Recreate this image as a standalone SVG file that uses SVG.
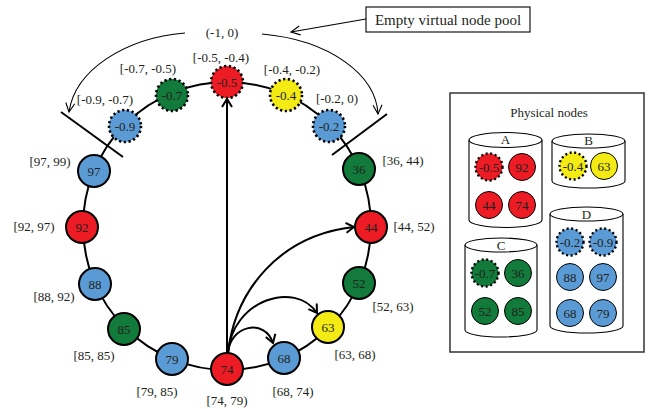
<svg xmlns="http://www.w3.org/2000/svg" width="649" height="409" viewBox="0 0 649 409">
<defs>
<style>
text{font-family:"Liberation Serif","Times New Roman",serif;fill:#231f20;text-anchor:middle}
.lbl{font-size:13px}
.nt{font-size:13px}
.rn{stroke:#000;stroke-width:2}
.vn{stroke:#000;stroke-width:2.6;stroke-dasharray:2.2 2.6}
.pn{stroke:#000;stroke-width:1}
.pv{stroke:#000;stroke-width:2.4;stroke-dasharray:2 2.6}
.red{fill:#ed1c24}.grn{fill:#127a3a}.blu{fill:#5b9bd5}.yel{fill:#f3eb13}
.cyl{fill:#fff;stroke:#000;stroke-width:1.1}
.thick{fill:none;stroke:#000;stroke-width:2}
.thin{fill:none;stroke:#000;stroke-width:1.1}
</style>
<marker id="ah" viewBox="-10 -6 12 12" refX="0" refY="0" markerWidth="12" markerHeight="12" markerUnits="userSpaceOnUse" orient="auto" overflow="visible">
<path d="M-8,-5 L0,0 L-8,5" fill="none" stroke="#000" stroke-width="2"/>
</marker>
<marker id="ahs" viewBox="-10 -6 12 12" refX="0" refY="0" markerWidth="12" markerHeight="12" markerUnits="userSpaceOnUse" orient="auto" overflow="visible">
<path d="M-9,-4.5 L0,0 L-9,4.5" fill="none" stroke="#000" stroke-width="1.1"/>
</marker>
</defs>
<rect width="649" height="409" fill="#fff"/>

<g id="connectors">
<circle cx="227" cy="226" r="144" fill="none" stroke="#000" stroke-width="2"/>
<line x1="61" y1="112" x2="123" y2="157" stroke="#000" stroke-width="2"/>
<line x1="387" y1="114" x2="332" y2="155" stroke="#000" stroke-width="2"/>
<path class="thin" d="M185,33 C125,38 75,70 69,112" marker-end="url(#ahs)"/>
<path class="thin" d="M262,34 C330,40 376,75 378,114" marker-end="url(#ahs)"/>
<line class="thin" x1="366" y1="19" x2="291" y2="32" marker-end="url(#ahs)"/>
<path class="thick" d="M227,353 L227,99" marker-end="url(#ah)"/>
<path class="thick" d="M228,353 C235,290 280,235 354,227" marker-end="url(#ah)"/>
<path class="thick" d="M228,353 C232,300 295,280 317,313" marker-end="url(#ah)"/>
<path class="thick" d="M228,353 C230,325 265,318 273,343" marker-end="url(#ah)"/>
</g>

<g id="pool-label">
<text x="222" y="37" class="lbl">(-1, 0)</text>
</g>
<g id="callout">
<rect x="366" y="7" width="164" height="25" fill="#fff" stroke="#000" stroke-width="1.1"/>
<text x="448" y="25" style="font-size:15px">Empty virtual node pool</text>
</g>

<g id="v-09"><circle cx="125" cy="126" r="16" class="blu vn"/><text x="125" y="131" class="nt">-0.9</text><text x="105" y="104" class="lbl">[-0.9, -0.7)</text></g>
<g id="v-07"><circle cx="172" cy="95" r="16" class="grn vn"/><text x="172" y="100" class="nt">-0.7</text><text x="148" y="73" class="lbl">[-0.7, -0.5)</text></g>
<g id="v-05"><circle cx="227" cy="82" r="16" class="red vn"/><text x="227" y="87" class="nt">-0.5</text><text x="221" y="62" class="lbl">[-0.5, -0.4)</text></g>
<g id="v-04"><circle cx="286" cy="95" r="16" class="yel vn"/><text x="286" y="100" class="nt">-0.4</text><text x="292" y="74" class="lbl">[-0.4, -0.2)</text></g>
<g id="v-02"><circle cx="329" cy="126" r="16" class="blu vn"/><text x="329" y="131" class="nt">-0.2</text><text x="337" y="103" class="lbl">[-0.2, 0)</text></g>
<g id="n36"><circle cx="359" cy="169" r="16" class="grn rn"/><text x="359" y="174" class="nt">36</text><text x="403" y="165" class="lbl">[36, 44)</text></g>
<g id="n44"><circle cx="371" cy="227" r="16" class="red rn"/><text x="371" y="232" class="nt">44</text><text x="414" y="231" class="lbl">[44, 52)</text></g>
<g id="n52"><circle cx="359" cy="283" r="16" class="grn rn"/><text x="359" y="288" class="nt">52</text><text x="393" y="311" class="lbl">[52, 63)</text></g>
<g id="n63"><circle cx="328" cy="327" r="16" class="yel rn"/><text x="328" y="332" class="nt">63</text><text x="355" y="359" class="lbl">[63, 68)</text></g>
<g id="n68"><circle cx="284" cy="358" r="16" class="blu rn"/><text x="284" y="363" class="nt">68</text><text x="293" y="396" class="lbl">[68, 74)</text></g>
<g id="n74"><circle cx="227" cy="369" r="16" class="red rn"/><text x="227" y="374" class="nt">74</text><text x="227" y="405" class="lbl">[74, 79)</text></g>
<g id="n79"><circle cx="172" cy="359" r="16" class="blu rn"/><text x="172" y="364" class="nt">79</text><text x="157" y="396" class="lbl">[79, 85)</text></g>
<g id="n85"><circle cx="124" cy="329" r="16" class="grn rn"/><text x="124" y="334" class="nt">85</text><text x="94" y="360" class="lbl">[85, 85)</text></g>
<g id="n88"><circle cx="95" cy="284" r="16" class="blu rn"/><text x="95" y="289" class="nt">88</text><text x="54" y="301" class="lbl">[88, 92)</text></g>
<g id="n92"><circle cx="82" cy="227" r="16" class="red rn"/><text x="82" y="232" class="nt">92</text><text x="34" y="231" class="lbl">[92, 97)</text></g>
<g id="n97"><circle cx="94" cy="171" r="16" class="blu rn"/><text x="94" y="176" class="nt">97</text><text x="50" y="166" class="lbl">[97, 99)</text></g>

<g id="physical-nodes">
<rect x="450" y="93" width="194" height="259" fill="#fff" stroke="#333" stroke-width="1.5"/>
<text x="549" y="117" class="lbl">Physical nodes</text>
</g>

<g id="pA">
<path class="cyl" d="M469,140 L469,220 A36.5,7.5 0 0 0 542,220 L542,140"/>
<ellipse class="cyl" cx="505.5" cy="140" rx="36.5" ry="7.5"/>
<text x="505.5" y="144" class="lbl">A</text>
<circle cx="489" cy="167" r="13.5" class="red pv"/><text x="489" y="172" class="nt">-0.5</text>
<circle cx="522" cy="167" r="13.5" class="red pn"/><text x="522" y="172" class="nt">92</text>
<circle cx="489" cy="205" r="13.5" class="red pn"/><text x="489" y="210" class="nt">44</text>
<circle cx="522" cy="205" r="13.5" class="red pn"/><text x="522" y="210" class="nt">74</text>
</g>
<g id="pB">
<path class="cyl" d="M552,141 L552,181 A36.5,7 0 0 0 625,181 L625,141"/>
<ellipse class="cyl" cx="588.5" cy="141" rx="36.5" ry="7"/>
<text x="588.5" y="145" class="lbl">B</text>
<circle cx="573" cy="166" r="13.5" class="yel pv"/><text x="573" y="171" class="nt">-0.4</text>
<circle cx="604" cy="166" r="13.5" class="yel pn"/><text x="604" y="171" class="nt">63</text>
</g>
<g id="pC">
<path class="cyl" d="M465,245 L465,330 A36,7 0 0 0 537,330 L537,245"/>
<ellipse class="cyl" cx="501" cy="245" rx="36" ry="7"/>
<text x="501" y="250" class="lbl">C</text>
<circle cx="485" cy="273" r="13.5" class="grn pv"/><text x="485" y="278" class="nt">-0.7</text>
<circle cx="518" cy="273" r="13.5" class="grn pn"/><text x="518" y="278" class="nt">36</text>
<circle cx="485" cy="311" r="13.5" class="grn pn"/><text x="485" y="316" class="nt">52</text>
<circle cx="518" cy="311" r="13.5" class="grn pn"/><text x="518" y="316" class="nt">85</text>
</g>
<g id="pD">
<path class="cyl" d="M550,214 L550,326 A36.5,7 0 0 0 623,326 L623,214"/>
<ellipse class="cyl" cx="586.5" cy="214" rx="36.5" ry="7"/>
<text x="586.5" y="219" class="lbl">D</text>
<circle cx="570" cy="242" r="13.5" class="blu pv"/><text x="570" y="247" class="nt">-0.2</text>
<circle cx="603" cy="242" r="13.5" class="blu pv"/><text x="603" y="247" class="nt">-0.9</text>
<circle cx="570" cy="277" r="13.5" class="blu pn"/><text x="570" y="282" class="nt">88</text>
<circle cx="603" cy="277" r="13.5" class="blu pn"/><text x="603" y="282" class="nt">97</text>
<circle cx="570" cy="313" r="13.5" class="blu pn"/><text x="570" y="318" class="nt">68</text>
<circle cx="603" cy="313" r="13.5" class="blu pn"/><text x="603" y="318" class="nt">79</text>
</g>
</svg>
